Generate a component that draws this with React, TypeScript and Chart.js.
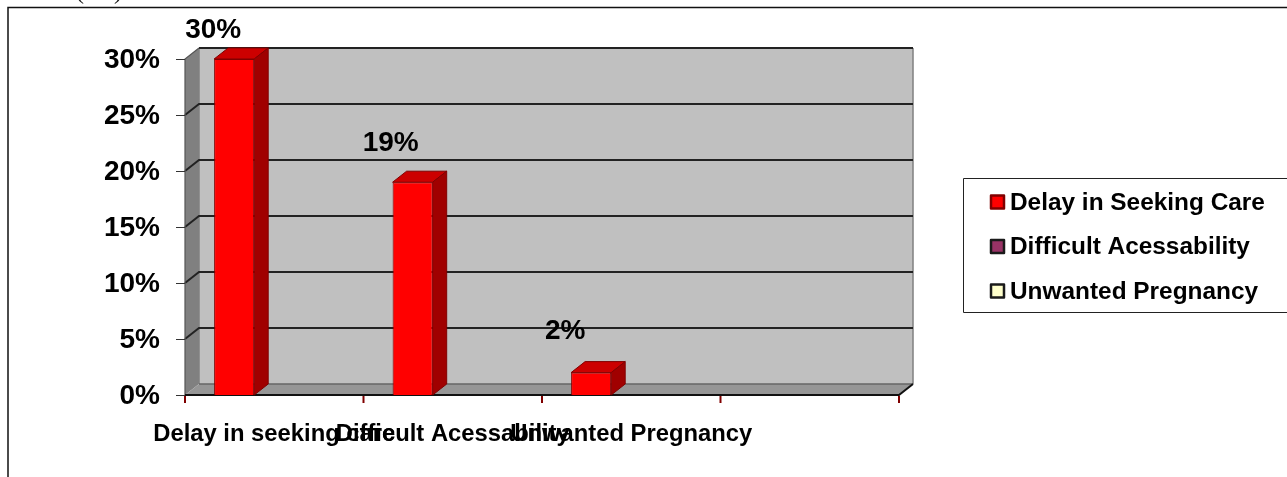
import React, { useEffect, useRef } from "react";
import { Chart, registerables } from "chart.js";

Chart.register(...registerables);

const categories = ["Delay in seeking care", "Difficult Acessability", "Unwanted Pregnancy", ""];
const delayValues = [30, 19, 2, null];
const accessValues = [null, null, null, null];
const pregnancyValues = [null, null, null, null];
const yTicks = [0, 5, 10, 15, 20, 25, 30];

const seriesNames = ["Delay in Seeking Care", "Difficult Acessability", "Unwanted Pregnancy"];
const seriesColors = ["#FF0000", "#993366", "#FFFFCC"];
const seriesEdges = ["#800000", "#1a1a1a", "#1a1a1a"];

const FONT = '"Liberation Sans", Arial, sans-serif';
const DX = 14;
const DY = -11;
const labelShift = [{ x: -21, y: -29 }, { x: -22, y: -39 }, { x: -26, y: -41 }];

const scene = {
  id: "scene",
  beforeDraw(chart: any) {
    const { ctx, width, height, scales } = chart;
    scales.y.getLabelItems().forEach((item: any) => { item.textOffset = 1.5; });
    ctx.save();
    ctx.fillStyle = "#fff";
    ctx.fillRect(0, 0, width, height);
    // outer frame
    ctx.strokeStyle = "#111";
    ctx.lineWidth = 1.5;
    ctx.beginPath();
    ctx.moveTo(8, height);
    ctx.lineTo(8, 7.5);
    ctx.lineTo(width, 7.5);
    ctx.stroke();
    // fragment of the caption cut off by the page top
    ctx.fillStyle = "#111";
    ctx.font = `24px "Liberation Serif", serif`;
    ctx.textBaseline = "alphabetic";
    ctx.textAlign = "left";
    ctx.fillText("(", 76, -1);
    ctx.fillText(")", 114, -1);
    ctx.restore();
  },
  beforeDatasetsDraw(chart: any) {
    const { ctx, chartArea: a, scales } = chart;
    const { left: l, right: r, top: t, bottom: b } = a;
    ctx.save();
    // back wall
    ctx.fillStyle = "#C0C0C0";
    ctx.fillRect(l + DX, t + DY, r - l, b - t);
    // side wall
    ctx.fillStyle = "#808080";
    ctx.beginPath();
    ctx.moveTo(l, t);
    ctx.lineTo(l + DX, t + DY);
    ctx.lineTo(l + DX, b + DY);
    ctx.lineTo(l, b);
    ctx.closePath();
    ctx.fill();
    // floor
    ctx.fillStyle = "#969696";
    ctx.beginPath();
    ctx.moveTo(l, b);
    ctx.lineTo(l + DX, b + DY);
    ctx.lineTo(r + DX, b + DY);
    ctx.lineTo(r, b);
    ctx.closePath();
    ctx.fill();
    // wall edges
    ctx.strokeStyle = "#808080";
    ctx.lineWidth = 1.5;
    ctx.beginPath();
    ctx.moveTo(l + DX, t + DY);
    ctx.lineTo(l + DX, b + DY);
    ctx.moveTo(r + DX, t + DY);
    ctx.lineTo(r + DX, b + DY);
    ctx.stroke();
    ctx.strokeStyle = "#666";
    ctx.beginPath();
    ctx.moveTo(l + DX, b + DY);
    ctx.lineTo(r + DX, b + DY);
    ctx.stroke();
    // grid lines across side and back walls
    ctx.strokeStyle = "#222";
    ctx.lineWidth = 2;
    for (const v of yTicks) {
      if (v === 0) continue;
      const y = scales.y.getPixelForValue(v);
      ctx.beginPath();
      if (v < 30) {
        ctx.moveTo(l, y);
        ctx.lineTo(l + DX, y + DY);
      } else {
        ctx.moveTo(l + DX, y + DY);
      }
      ctx.lineTo(r + DX, y + DY);
      ctx.stroke();
    }
    // side wall front and top edges
    ctx.strokeStyle = "#555";
    ctx.lineWidth = 1.2;
    ctx.beginPath();
    ctx.moveTo(l + DX, t + DY);
    ctx.lineTo(l, t);
    ctx.lineTo(l, b);
    ctx.stroke();
    // base
    ctx.strokeStyle = "#111";
    ctx.lineWidth = 2;
    ctx.beginPath();
    ctx.moveTo(l, b);
    ctx.lineTo(r, b);
    ctx.lineTo(r + DX, b + DY);
    ctx.stroke();
    // y ticks
    ctx.strokeStyle = "#333";
    ctx.lineWidth = 1;
    for (const v of yTicks) {
      const y = Math.round(scales.y.getPixelForValue(v)) + 0.5;
      ctx.beginPath();
      ctx.moveTo(l - 9, y);
      ctx.lineTo(l, y);
      ctx.stroke();
    }
    // x ticks
    ctx.strokeStyle = "#800000";
    ctx.lineWidth = 2;
    const step = (r - l) / categories.length;
    for (let i = 0; i <= categories.length; i++) {
      const x = l + step * i;
      ctx.beginPath();
      ctx.moveTo(x, b + 1);
      ctx.lineTo(x, b + 8);
      ctx.stroke();
    }
    ctx.restore();
  },
  afterDatasetsDraw(chart: any) {
    const { ctx, scales } = chart;
    ctx.save();
    const meta = chart.getDatasetMeta(0);
    const y0 = scales.y.getPixelForValue(0);
    meta.data.forEach((bar: any, i: number) => {
      const v = delayValues[i];
      if (v == null) return;
      const x0 = bar.x - bar.width / 2;
      const x1 = bar.x + bar.width / 2;
      const y = bar.y;
      ctx.strokeStyle = "#800000";
      ctx.lineWidth = 1;
      ctx.lineJoin = "round";
      // top face
      ctx.fillStyle = "#CC0000";
      ctx.beginPath();
      ctx.moveTo(x0, y);
      ctx.lineTo(x0 + DX, y + DY);
      ctx.lineTo(x1 + DX, y + DY);
      ctx.lineTo(x1, y);
      ctx.closePath();
      ctx.fill();
      ctx.stroke();
      // side face
      ctx.fillStyle = "#A00000";
      ctx.beginPath();
      ctx.moveTo(x1, y);
      ctx.lineTo(x1 + DX, y + DY);
      ctx.lineTo(x1 + DX, y0 + DY);
      ctx.lineTo(x1, y0);
      ctx.closePath();
      ctx.fill();
      ctx.stroke();
      // data label
      const s = labelShift[i];
      ctx.fillStyle = "#000";
      ctx.font = `bold 28px ${FONT}`;
      ctx.textAlign = "center";
      ctx.textBaseline = "middle";
      ctx.fillText(`${v}%`, bar.x + s.x, y + s.y);
    });
    // legend
    ctx.strokeStyle = "#222";
    ctx.lineWidth = 1;
    ctx.fillStyle = "#fff";
    ctx.fillRect(963.5, 178.5, 330, 134);
    ctx.strokeRect(963.5, 178.5, 330, 134);
    ctx.font = `bold 24.4px ${FONT}`;
    ctx.textAlign = "left";
    ctx.textBaseline = "middle";
    seriesNames.forEach((name, i) => {
      const cy = 203 + i * 44.5;
      ctx.fillStyle = seriesColors[i];
      ctx.strokeStyle = seriesEdges[i];
      ctx.lineWidth = 2.5;
      ctx.fillRect(991, cy - 7.5, 13, 13);
      ctx.strokeRect(991, cy - 7.5, 13, 13);
      ctx.fillStyle = "#000";
      ctx.fillText(name, 1010, cy);
    });
    ctx.restore();
  },
};

export default function App() {
  const ref = useRef<HTMLCanvasElement>(null);
  useEffect(() => {
    document.body.style.margin = "0";
    document.body.style.overflow = "hidden";
    const common = { borderColor: "#800000", borderWidth: 1, barPercentage: 1, categoryPercentage: 0.674 };
    const chart = new Chart(ref.current!, {
      type: "bar",
      data: {
        labels: categories,
        datasets: [
          { label: seriesNames[0], data: delayValues, backgroundColor: seriesColors[0], ...common },
          { label: seriesNames[1], data: accessValues, backgroundColor: seriesColors[1], ...common },
          { label: seriesNames[2], data: pregnancyValues, backgroundColor: seriesColors[2], ...common },
        ],
      } as any,
      options: {
        animation: false,
        responsive: false,
        layout: { padding: { top: 59, right: 388, left: 0, bottom: 0 } },
        plugins: { legend: { display: false }, tooltip: { enabled: false } },
        scales: {
          x: {
            grid: { display: false },
            border: { display: false },
            afterFit(s: any) { s.height = 82; },
            ticks: {
              autoSkip: false,
              maxRotation: 0,
              padding: 17,
              color: "#000",
              font: { family: FONT, size: 23.8, weight: "bold" },
            },
          },
          y: {
            min: 0,
            max: 30,
            grid: { display: false },
            border: { display: false },
            afterFit(s: any) { s.width = 185; },
            ticks: {
              stepSize: 5,
              padding: 17,
              color: "#000",
              font: { family: FONT, size: 28, weight: "bold" },
              callback: (v: any) => `${v}%`,
            },
          },
        },
      },
      plugins: [scene],
    } as any);
    return () => chart.destroy();
  }, []);
  return <canvas ref={ref} width={1287} height={477} style={{ display: "block" }} />;
}
